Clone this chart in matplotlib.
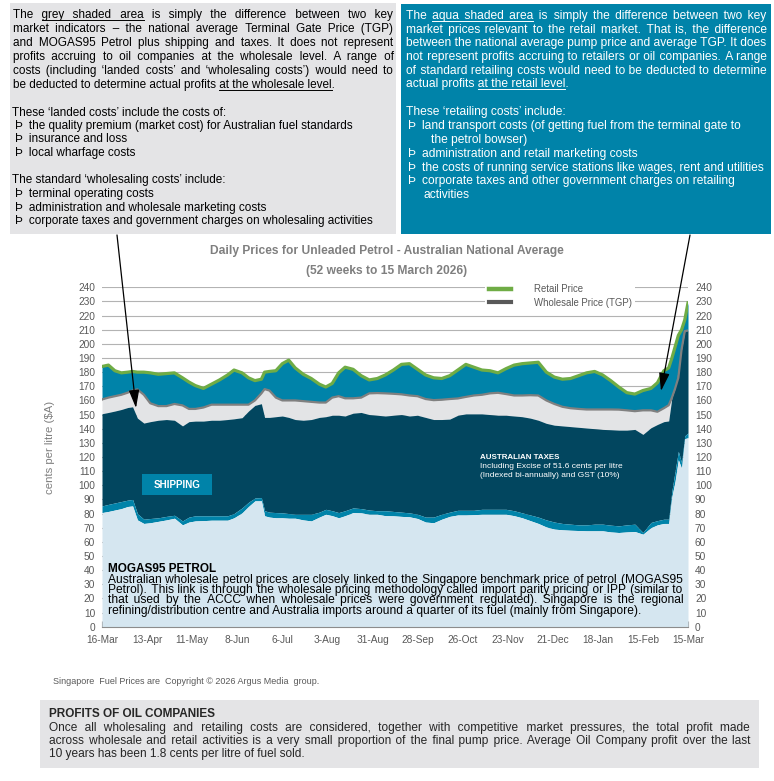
import matplotlib
matplotlib.use('Agg')
import matplotlib.pyplot as plt
from matplotlib import font_manager
from matplotlib.lines import Line2D
from matplotlib.patches import Rectangle, FancyArrowPatch

W, H = 774, 781

# day 0 = 16-Mar-2025, cents per litre
days = [0, 4, 8, 12, 16, 19, 22, 26, 30, 35,
        40, 45, 50, 54, 58, 63, 68, 73, 78, 82,
        87, 91, 95, 99, 101, 104, 108, 112, 116, 120,
        125, 130, 135, 139, 143, 147, 151, 156, 161, 166,
        171, 176, 181, 186, 191, 196, 201, 206, 211, 216,
        221, 226, 231, 236, 241, 246, 251, 256, 261, 266,
        271, 276, 281, 286, 291, 296, 301, 306, 311, 316,
        321, 326, 331, 336, 341, 345, 349, 352, 354, 356,
        358, 360, 362, 364]

retail = [184, 185, 181, 179.5, 180, 180.5, 180, 180, 179.5, 178.5,
          179, 179.5, 176, 173, 170.5, 168.5, 171.5, 174.5, 178, 181.5,
          179.5, 176, 174, 175, 180, 180.5, 181, 186, 188.5, 183,
          178.5, 175.5, 171.5, 169.5, 172, 179.5, 183.5, 182, 177.5, 174.5,
          175.5, 178, 181.5, 185.5, 186, 182, 178, 176, 175.5, 177.5,
          181.5, 185.5, 183.5, 181.5, 181, 179.5, 182.5, 185, 186, 186.5,
          187, 180, 176.5, 175, 175.5, 177.5, 179.5, 180.5, 178, 174,
          169.5, 165.5, 164.5, 167, 168.5, 172.5, 181, 183, 190, 198,
          206, 210, 217, 229]

tgp = [160.7, 162, 163, 164, 165.5, 167, 167.8, 164, 158, 156,
       156, 157.5, 156.5, 154, 154, 155, 157, 157, 157, 157,
       157, 157, 160, 165, 168, 167, 162, 160, 160, 160,
       159.5, 159, 158.5, 158.5, 162, 163, 161.5, 161.5, 162, 165,
       165.2, 165, 164.7, 164.3, 163.5, 163, 161, 160.2, 160.5, 161,
       161.4, 162.5, 163.5, 164, 165, 165.4, 164.5, 163.5, 163.5, 163.7,
       163.5, 160, 157.5, 155.5, 154.5, 154, 153.6, 153.6, 153.6, 153.6,
       153.5, 153, 152.4, 153, 153, 152, 154.5, 156.6, 162, 168.5,
       176, 196, 209, 209.5]

taxes = [150.6, 151.5, 152.5, 153.6, 155, 155.5, 147.5, 144, 145, 146,
         146.5, 146, 142, 145, 145.4, 145.4, 146, 146, 146.5, 147,
         147.8, 152.5, 156.5, 157.7, 148, 148, 148.5, 149, 148, 146.5,
         146, 146.5, 148, 148.5, 149.5, 149.5, 149, 151, 151.5, 150,
         149.5, 149, 149.5, 150, 149, 149.5, 148, 146.5, 146.5, 146.8,
         149.5, 150.5, 150.5, 150.5, 150, 149.5, 149.5, 149, 148.5, 147.5,
         146, 143.8, 142.5, 142, 141.5, 141, 140.5, 140, 139.5, 139.3,
         139, 139, 139.5, 136, 140.7, 143, 145, 145.5, 162, 168.5,
         182, 196, 209, 209.5]

shipping = [85.4, 86.5, 87.5, 88.5, 89.5, 90, 80, 76, 76.5, 77,
            78, 78.8, 74.8, 77.5, 78.4, 78.4, 78.4, 78.4, 78.4, 80,
            84, 88, 91, 91.3, 82, 81, 80.7, 80.5, 80, 79.5,
            79.5, 79.5, 81, 83, 82, 80.7, 82, 84, 83.5, 82.5,
            82, 82, 81.5, 81, 80.5, 79.5, 77.5, 77.5, 79.5, 81,
            82.3, 82.3, 82.3, 83, 83, 83, 83, 82, 80.5, 79,
            77.5, 75.5, 74, 73, 72.5, 72, 72, 72.5, 72.5, 71.8,
            71.3, 72, 72.5, 66.6, 73.7, 75, 76, 76, 96, 110,
            124, 116, 135, 137]

mogas = [80.7, 81.5, 82.5, 83.5, 85, 85.4, 75.5, 73, 73.5, 74.5,
         75.5, 76.7, 72, 74, 74.8, 75, 75.3, 75.3, 75.3, 77,
         80.5, 85, 89, 89, 78.4, 77.5, 77, 77, 76.7, 76.7,
         75.5, 74.8, 77.5, 79.5, 78.5, 77, 78.5, 80.7, 80.5, 79.5,
         79.5, 78.5, 78.4, 78, 77.7, 76.5, 74, 73.5, 76, 78,
         79, 79, 79.2, 79.5, 79.5, 79.5, 79.5, 78.5, 77, 75,
         73, 70.5, 69, 68.5, 68.2, 68, 67.8, 67.8, 67.8, 67,
         66.6, 67, 67.3, 65.4, 70, 72, 73, 73, 92, 103,
         118, 112, 133, 133.6]

tick_labels = ['16-Mar', '13-Apr', '11-May', '8-Jun', '6-Jul', '3-Aug', '31-Aug',
               '28-Sep', '26-Oct', '23-Nov', '21-Dec', '18-Jan', '15-Feb', '15-Mar']

grey_para = ["The _grey shaded area_ is simply the difference between two key",
             "market indicators – the national average Terminal Gate Price (TGP)",
             "and MOGAS95 Petrol plus shipping and taxes. It does not represent",
             "profits accruing to oil companies at the wholesale level. A range of",
             "costs (including ‘landed costs’ and ‘wholesaling costs’) would need to",
             "be deducted to determine actual profits _at the wholesale level_."]
landed = ["the quality premium (market cost) for Australian fuel standards",
          "insurance and loss", "local wharfage costs"]
wholesaling = ["terminal operating costs", "administration and wholesale marketing costs",
               "corporate taxes and government charges on wholesaling activities"]

aqua_para = ["The _aqua shaded area_ is simply the difference between two key",
             "market prices relevant to the retail market. That is, the difference",
             "between the national average pump price and average TGP. It does",
             "not represent profits accruing to retailers or oil companies. A range",
             "of standard retailing costs would need to be deducted to determine",
             "actual profits _at the retail level_."]
retailing = [("land transport costs (of getting fuel from the terminal gate to", 0),
             ("the petrol bowser)", 10),
             ("administration and retail marketing costs", 0),
             ("the costs of running service stations like wages, rent and utilities", 0),
             ("corporate taxes and other government charges on retailing", 0),
             ("activities", 2)]

mogas_para = ["Australian wholesale petrol prices are closely linked to the Singapore benchmark price of petrol (MOGAS95",
              "Petrol). This link is through the wholesale pricing methodology called import parity pricing or IPP (similar to",
              "that used by the ACCC when wholesale prices were government regulated). Singapore is the regional",
              "refining/distribution centre and Australia imports around a quarter of its fuel (mainly from Singapore)."]

profit_para = ["Once all wholesaling and retailing costs are considered, together with competitive market pressures, the total profit made",
               "across wholesale and retail activities is a very small proportion of the final pump price. Average Oil Company profit over the last",
               "10 years has been 1.8 cents per litre of fuel sold."]

LIGHT = '#d5e6f0'
TEAL = '#0083a9'
NAVY = '#02465f'
GREYAREA = '#e3e4e6'
BOXGREY = '#e4e4e6'
GREEN = '#6fac45'
TGPC = '#808080'
TXT = '#595959'
HAIR = '\u200a'

names = {f.name for f in font_manager.fontManager.ttflist}
SANS = 'Liberation Sans' if 'Liberation Sans' in names else 'DejaVu Sans'
NARROW = 'Liberation Sans Narrow' if 'Liberation Sans Narrow' in names else SANS

fig = plt.figure(figsize=(W / 100, H / 100), dpi=100)
renderer = fig.canvas.get_renderer()


def text_width(s, **kw):
    t = fig.text(0, 0, s, **kw)
    w = t.get_window_extent(renderer).width
    t.remove()
    return w


def fit(s, target, **kw):
    return 10 * target / text_width(s, fontsize=10, **kw)


def put(x, y, s, **kw):
    return fig.text(x / W, 1 - y / H, s, **kw)


def draw_line(s, x0, y, size, x1=None, color='black', family=SANS, weight='normal',
              bullet=None, text_x=None):
    # one text per line; justification is done with hair spaces, '_' toggles underline
    kw = dict(fontsize=size, fontweight=weight, family=[family, 'DejaVu Sans'])

    def wid(t):
        return text_width('a' + t + 'a', **kw) - text_width('aa', **kw) if t else 0.0

    items, ul = [], False
    for tok in s.split():
        word, flags = '', []
        for i, p in enumerate(tok.split('_')):
            if i:
                ul = not ul
            word += p
            flags += [ul] * len(p)
        items.append((word, flags, ul))
    words = [w for w, _, _ in items]
    hw = wid(HAIR)
    gaps = [' '] * (len(words) - 1)
    if x1 is not None and gaps:
        sp = wid(' ')
        extra = (x1 - (text_x or x0) - wid(' '.join(words))) / len(gaps)
        acc = 0.0
        for i in range(len(gaps)):
            want = sp + extra + acc
            if want >= sp:
                k = max(0, round((want - sp) / hw))
                gaps[i] = ' ' + HAIR * k
                acc = want - sp - k * hw
            else:
                k = max(1, round(want / hw))
                gaps[i] = HAIR * k
                acc = want - k * hw
    line, flags = '', []
    if bullet:
        k = max(1, round((text_x - x0 - wid(bullet)) / hw))
        line = bullet + HAIR * k
        flags = [False] * len(line)
    for i, (w, f, after) in enumerate(items):
        line += w
        flags += f
        if i < len(gaps):
            line += gaps[i]
            flags += [after] * len(gaps[i])
    put(x0, y, line, va='baseline', ha='left', color=color, **kw)
    i = 0
    while i < len(flags):
        if flags[i]:
            j = i
            while j < len(flags) and flags[j]:
                j += 1
            a, b = x0 + wid(line[:i]), x0 + wid(line[:j])
            fig.add_artist(Line2D([a / W, b / W], [1 - (y + 1.8) / H] * 2,
                                  transform=fig.transFigure, color=color, lw=0.7))
            i = j
        i += 1


# ---------------- chart ----------------
ax = fig.add_axes([102 / W, 1 - 626.7 / H, 586 / W, 339.4 / H])
ax.set_xlim(0, 364)
ax.set_ylim(0, 240)
ax.set_axisbelow(True)
ax.yaxis.grid(True, color='#b3b3b3', lw=0.8)

ax.fill_between(days, tgp, retail, color=TEAL, lw=0)
ax.fill_between(days, taxes, tgp, color=GREYAREA, lw=0)
ax.fill_between(days, shipping, taxes, color=NAVY, lw=0)
ax.fill_between(days, mogas, shipping, color=TEAL, lw=0)
ax.fill_between(days, 0, mogas, color=LIGHT, lw=0)
ax.plot(days, tgp, color=TGPC, lw=1.6, solid_joinstyle='round')
ax.plot(days, retail, color=GREEN, lw=2.3, solid_joinstyle='round')

for s in ['top', 'left', 'right']:
    ax.spines[s].set_visible(False)
ax.spines['bottom'].set_color('#8c8c8c')

tick_size = fit('16-Mar', 32, family=SANS)
ax.set_xticks(range(0, 365, 28))
ax.set_xticklabels(tick_labels)
ax.set_xticks(range(0, 365, 7), minor=True)
ax.tick_params(axis='x', which='both', direction='in', length=4, color='#8c8c8c',
               labelsize=tick_size, labelcolor=TXT, pad=6)
ax.set_yticks(range(0, 241, 10))
ax.tick_params(axis='y', length=0, labelsize=tick_size, labelcolor=TXT,
               labelleft=True, labelright=True, pad=5)
for lab in ax.get_xticklabels() + ax.get_yticklabels():
    lab.set_family(SANS)

leg_size = fit('Wholesale Price (TGP)', 98.5, family=NARROW)
handles = [Line2D([], [], color=GREEN, lw=3.2), Line2D([], [], color='#595959', lw=3)]
leg = ax.legend(handles, ['Retail Price', 'Wholesale Price (TGP)'], loc='upper left',
                bbox_to_anchor=(0.654, 1.02), borderaxespad=0, frameon=True,
                fancybox=False, edgecolor='none', facecolor='white', framealpha=1,
                prop=dict(family=NARROW, size=leg_size), labelcolor=TXT,
                handlelength=2.3, handletextpad=2.4, labelspacing=0.4, borderpad=0.35)

t_size = fit('Daily Prices for Unleaded Petrol - Australian National Average', 353,
             family=NARROW, fontweight='bold')
put(387, 254, 'Daily Prices for Unleaded Petrol - Australian National Average',
    ha='center', va='baseline', family=NARROW, fontweight='bold', fontsize=t_size, color='#7f7f7f')
put(387, 274, '(52 weeks to 15 March 2026)', ha='center', va='baseline', family=NARROW,
    fontweight='bold', fontsize=t_size, color='#7f7f7f')
put(50, 447, 'cents per litre ($A)', rotation=90, ha='center', va='center',
    family=NARROW, fontsize=fit('cents per litre ($A)', 93, family=NARROW), color='#7f7f7f')

# in-chart labels
fig.add_artist(Rectangle((141.7 / W, 1 - 494.7 / H), 70 / W, 20.7 / H,
                         transform=fig.transFigure, facecolor=TEAL, edgecolor='none'))
put(176.7, 488, 'SHIPPING', ha='center', va='baseline', color='white', fontweight='bold',
    family=NARROW, fontsize=fit('SHIPPING', 47, family=NARROW, fontweight='bold'))
put(480, 459.3, 'AUSTRALIAN TAXES', color='white', fontweight='bold', family=NARROW,
    va='baseline', fontsize=fit('AUSTRALIAN TAXES', 79, family=NARROW, fontweight='bold'))
tax_size = fit('Including Excise of 51.6 cents per litre', 141.7, family=NARROW)
put(480, 468.3, 'Including Excise of 51.6 cents per litre', color='white', family=NARROW,
    va='baseline', fontsize=tax_size)
put(480, 477.3, '(Indexed bi-annually) and GST (10%)', color='white', family=NARROW,
    va='baseline', fontsize=tax_size)

mog_size = fit(mogas_para[-1], 532.6, family=NARROW)
put(107.5, 572, 'MOGAS95 PETROL', va='baseline', fontweight='bold', family=NARROW,
    fontsize=fit('MOGAS95 PETROL', 108, family=NARROW, fontweight='bold'))
for i, line in enumerate(mogas_para):
    draw_line(line, 107.5, 582.5 + 10.5 * i, mog_size,
              x1=682 if i < len(mogas_para) - 1 else None, family=NARROW)

# ---------------- text boxes ----------------
fig.add_artist(Rectangle((10 / W, 1 - 234 / H), 386 / W, 231 / H, transform=fig.transFigure,
                         facecolor=BOXGREY, edgecolor='none', zorder=0))
g_size = fit('These ‘landed costs’ include the costs of:', 215, family=SANS)
for i, line in enumerate(grey_para):
    draw_line(line, 13, 18.3 + 13.9 * i, g_size, x1=393 if i < 5 else None)
draw_line('These ‘landed costs’ include the costs of:', 12, 115.6, g_size)
for i, line in enumerate(landed):
    draw_line(line, 15, 129 + 13.3 * i, g_size, bullet='Þ', text_x=29)
draw_line('The standard ‘wholesaling costs’ include:', 12, 183.3, g_size)
for i, line in enumerate(wholesaling):
    draw_line(line, 15, 196.9 + 13.6 * i, g_size, bullet='Þ', text_x=29)

fig.add_artist(Rectangle((401 / W, 1 - 234 / H), 370 / W, 230 / H, transform=fig.transFigure,
                         facecolor=TEAL, edgecolor='none', zorder=0))
a_size = fit('These ‘retailing costs’ include:', 160.7, family=SANS)
for i, line in enumerate(aqua_para):
    draw_line(line, 406, 19 + 13.7 * i, a_size, x1=766.5 if i < 5 else None, color='white')
draw_line('These ‘retailing costs’ include:', 406, 115, a_size, color='white')
for i, (line, indent) in enumerate(retailing):
    y = 129.3 + 13.75 * i
    if indent == 0:
        draw_line(line, 407.5, y, a_size, color='white', bullet='Þ', text_x=421)
    else:
        draw_line(line, 421 + indent, y, a_size, color='white')

for start, end in [((117, 235), (136, 408)), ((690, 235), (661, 391))]:
    fig.add_artist(FancyArrowPatch((start[0] / W, 1 - start[1] / H), (end[0] / W, 1 - end[1] / H),
                                   transform=fig.transFigure, arrowstyle='-|>,head_length=1.1,head_width=0.32',
                                   mutation_scale=10, color='black', lw=0.9, shrinkA=0, shrinkB=0))

# ---------------- footer ----------------
put(53, 684, 'Singapore  Fuel Prices are  Copyright © 2026 Argus Media  group.', va='baseline',
    family=NARROW, color=TXT,
    fontsize=fit('Singapore  Fuel Prices are  Copyright © 2026 Argus Media  group.', 265, family=NARROW))

fig.add_artist(Rectangle((40 / W, 1 - 767.5 / H), 719 / W, 68 / H, transform=fig.transFigure,
                         facecolor=BOXGREY, edgecolor='none', zorder=0))
p_size = fit(profit_para[-1], 257, family=NARROW)
put(49, 717, 'PROFITS OF OIL COMPANIES', va='baseline', fontweight='bold', family=NARROW,
    color='#262626', fontsize=fit('PROFITS OF OIL COMPANIES', 166.7, family=NARROW, fontweight='bold'))
for i, line in enumerate(profit_para):
    draw_line(line, 49, 730.5 + 13.5 * i, p_size, x1=750 if i < 2 else None,
              family=NARROW, color='#262626')

fig.savefig('out.png', dpi=100)
